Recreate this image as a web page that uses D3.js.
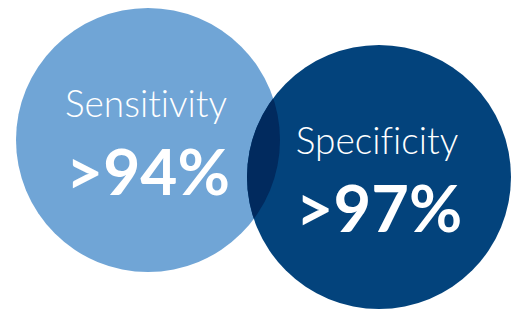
<!DOCTYPE html>
<html>
<head>
<meta charset="utf-8">
<script src="https://cdn.jsdelivr.net/npm/d3@7"></script>
<style>
  html, body { margin: 0; padding: 0; background: #fff; }
  svg { display: block; }
  text { font-variant-ligatures: none; }
</style>
</head>
<body>
<script>
const labels = ["Sensitivity", "Specificity"];
const values = [94, 97];
const prefixes = [">", ">"];

const width = 516,
  height = 313,
  radius = 132;

const colors = ["#70a5d6", "#03437c"];
const overlapColor = "#012a5e";

const x = d3.scaleLinear().domain([0, 1]).range([148, 379]);
const y = d3.scaleLinear().domain([0, 1]).range([140, 177]);

const svg = d3.select("body")
  .append("svg")
  .attr("width", width)
  .attr("height", height);

const data = labels.map((l, i) => ({ label: l, value: values[i], prefix: prefixes[i], i }));

svg.append("defs")
  .append("clipPath")
  .attr("id", "clip-second")
  .append("circle")
  .attr("cx", x(1))
  .attr("cy", y(1))
  .attr("r", radius);

svg.selectAll("circle.venn")
  .data(data)
  .enter()
  .append("circle")
  .attr("class", "venn")
  .attr("cx", d => x(d.i))
  .attr("cy", d => y(d.i))
  .attr("r", radius)
  .attr("fill", d => colors[d.i]);

// overlap lens
svg.append("circle")
  .attr("cx", x(0))
  .attr("cy", y(0))
  .attr("r", radius)
  .attr("clip-path", "url(#clip-second)")
  .attr("fill", overlapColor);

svg.selectAll("text.label")
  .data(data)
  .enter()
  .append("text")
  .attr("class", "label")
  .attr("x", d => x(d.i) - 2)
  .attr("y", d => y(d.i) - 23)
  .attr("text-anchor", "middle")
  .attr("fill", "#fff")
  .style("font-family", "Lato, sans-serif")
  .style("font-weight", 300)
  .style("font-size", "37px")
  .text(d => d.label);

svg.selectAll("text.value")
  .data(data)
  .enter()
  .append("text")
  .attr("class", "value")
  .attr("x", d => x(d.i))
  .attr("y", d => y(d.i) + 55)
  .attr("text-anchor", "middle")
  .attr("fill", "#fff")
  .style("font-family", "Lato, sans-serif")
  .style("font-weight", 700)
  .style("font-size", d => d.i ? "65px" : "64px")
  .text(d => d.prefix + d.value + "%");
</script>
</body>
</html>
